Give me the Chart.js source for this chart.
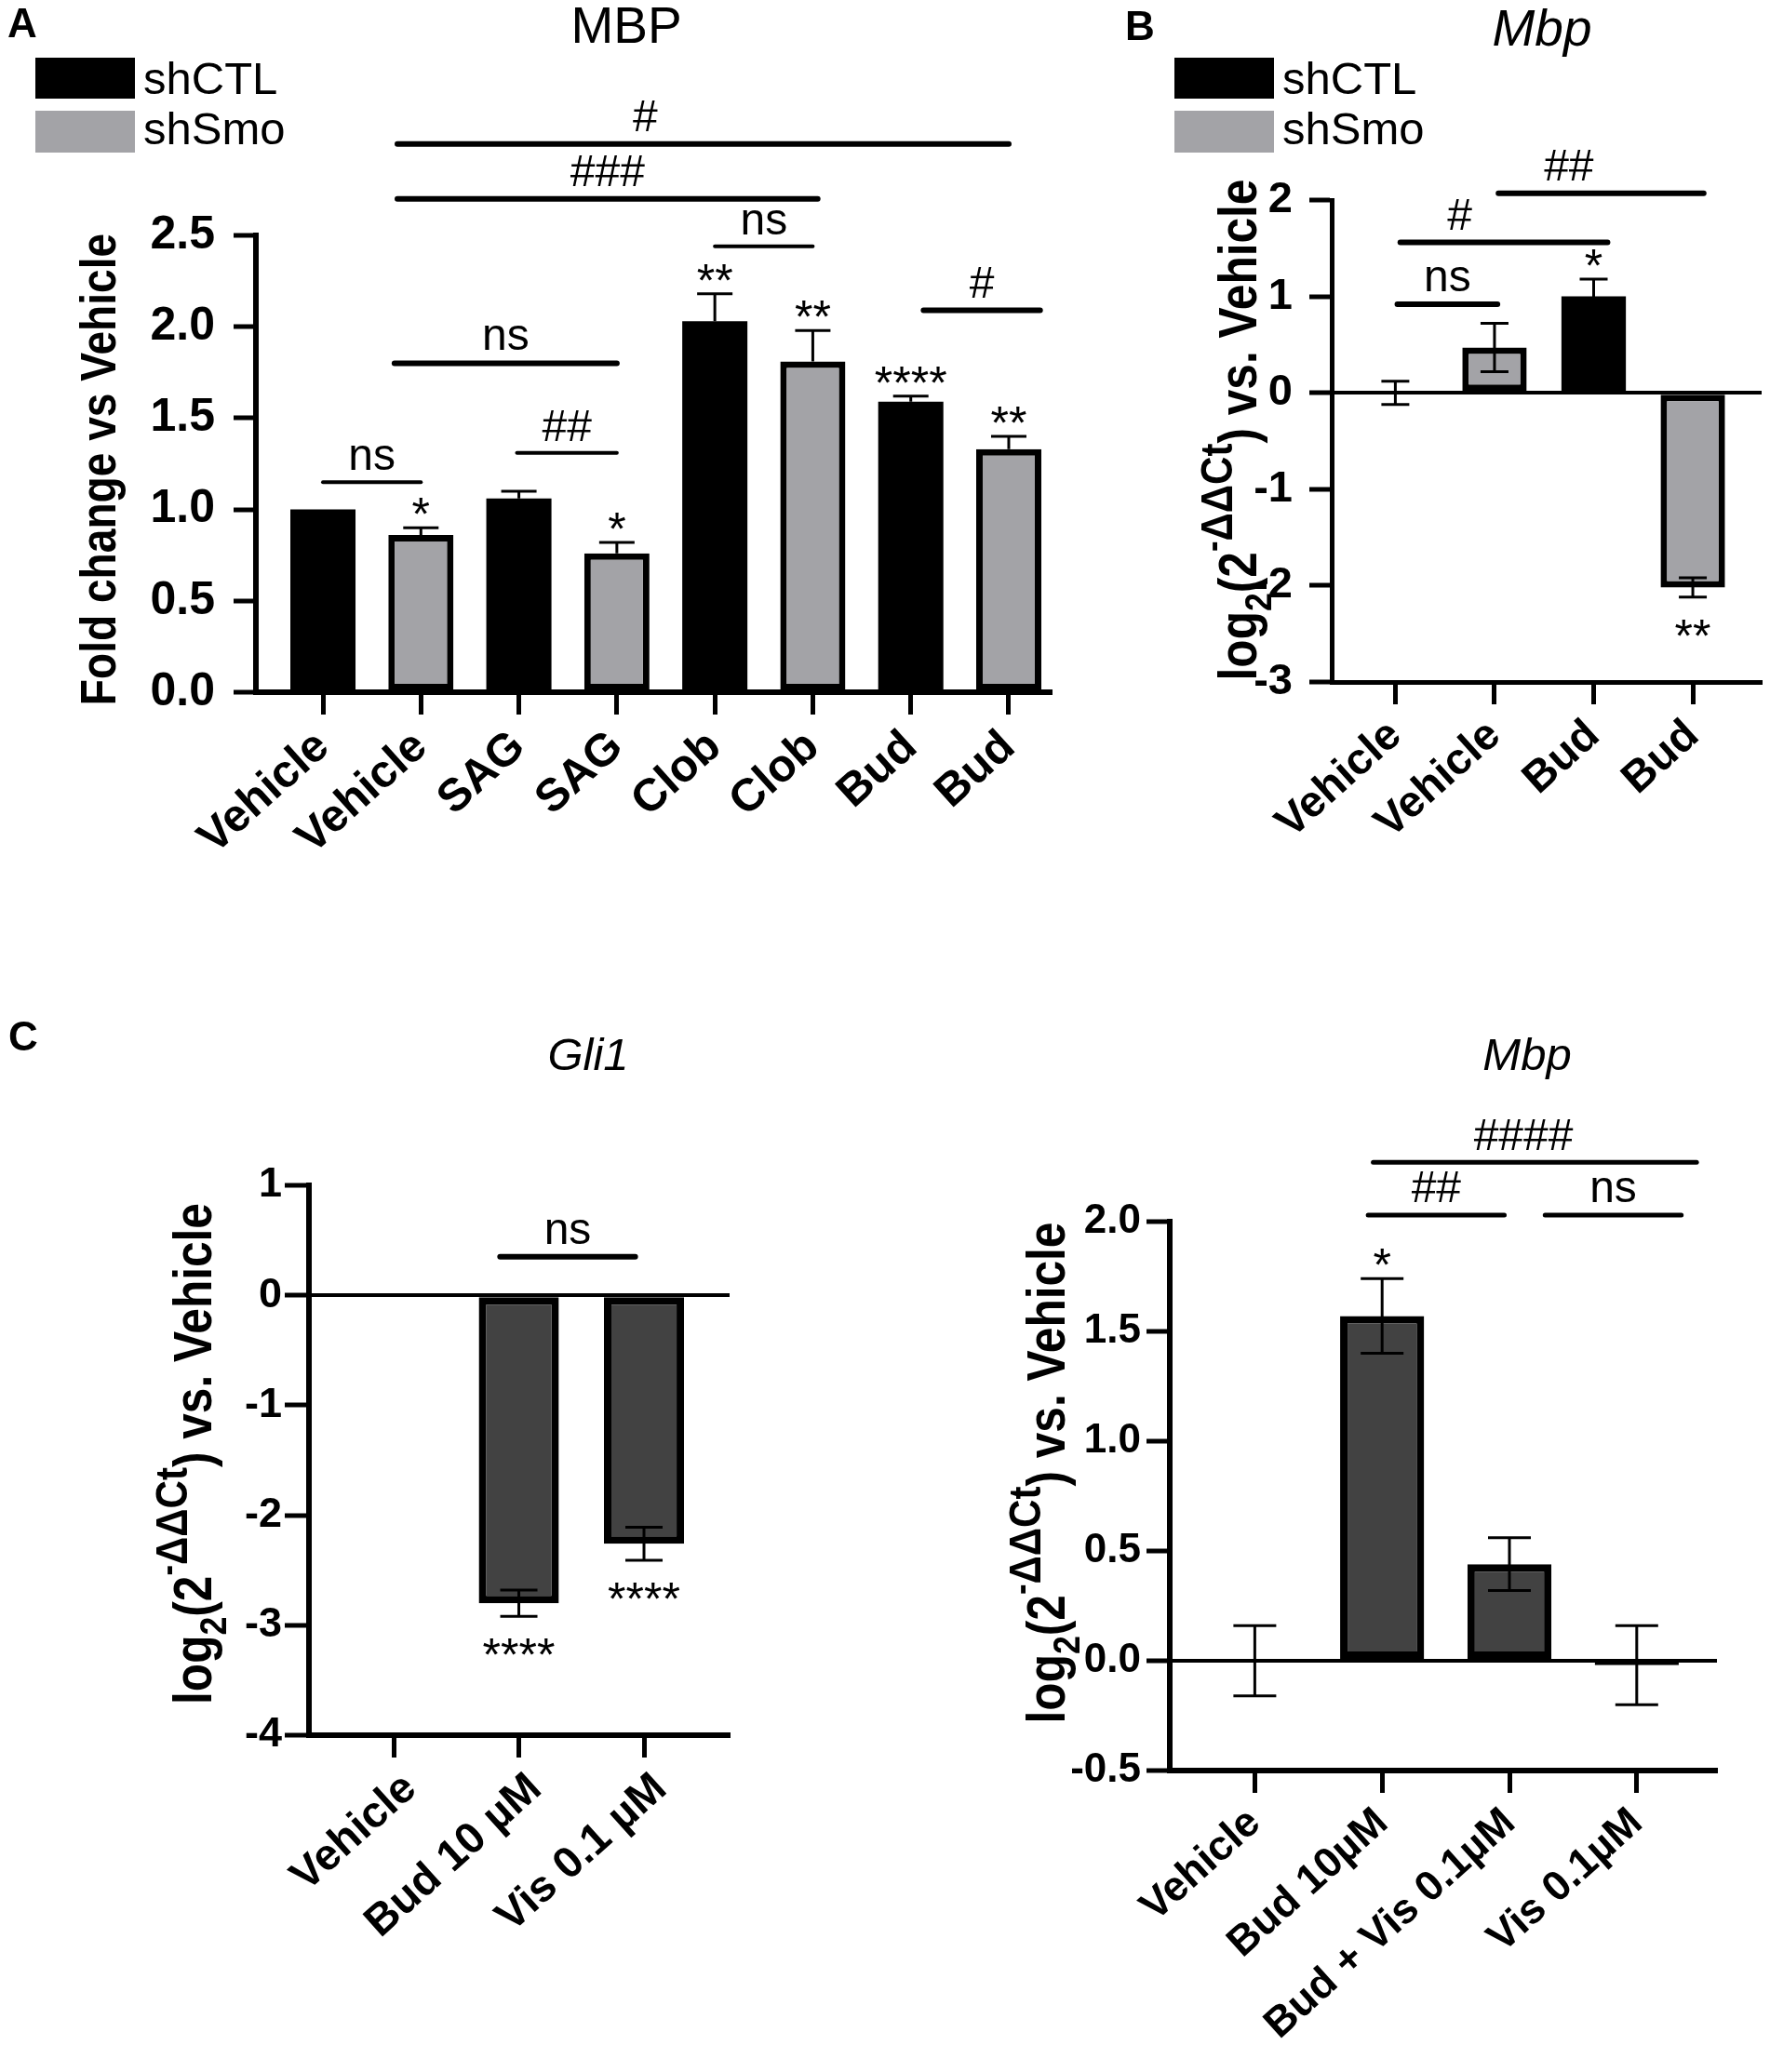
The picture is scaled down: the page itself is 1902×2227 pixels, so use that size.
<!DOCTYPE html>
<html>
<head>
<meta charset="utf-8">
<script src="https://cdn.jsdelivr.net/npm/chart.js@4.4.1/dist/chart.umd.min.js"></script>
<style>
  body { margin: 0; background: #fff; }
  #page { position: relative; width: 1902px; height: 2227px; font-family: "Liberation Sans", Arial, sans-serif; color: #000; }
  canvas { position: absolute; }
  .lbl { position: absolute; line-height: 1; white-space: nowrap; }
  .mid { transform: translateX(-50%); }
  .key { position: absolute; }
</style>
</head>
<body>
<div id="page">
  <canvas id="chartA" width="1180" height="1000" style="left:0;top:0"></canvas>
  <canvas id="chartB" width="702" height="1000" style="left:1200px;top:0"></canvas>
  <canvas id="chartGli" width="950" height="1147" style="left:0;top:1080px"></canvas>
  <canvas id="chartMbp" width="852" height="1147" style="left:1050px;top:1080px"></canvas>

  <div class="lbl" style="left:8px;top:3px;font-size:44px;font-weight:bold">A</div>
  <div class="lbl mid" style="left:673px;top:0px;font-size:55px">MBP</div>
  <div class="lbl" style="left:1209px;top:6px;font-size:44px;font-weight:bold">B</div>
  <div class="lbl mid" style="left:1657px;top:3px;font-size:55px;font-style:italic">Mbp</div>
  <div class="lbl" style="left:9px;top:1092px;font-size:44px;font-weight:bold">C</div>
  <div class="lbl mid" style="left:632px;top:1109px;font-size:49px;font-style:italic">Gli1</div>
  <div class="lbl mid" style="left:1641px;top:1109px;font-size:49px;font-style:italic">Mbp</div>
  <div id="legendA"></div>
  <div id="legendB"></div>
</div>

<script>
// ---- data ----
const seriesNames = ["shCTL", "shSmo"];

// A: MBP protein, fold change vs vehicle
const labelsA = ["Vehicle", "Vehicle", "SAG", "SAG", "Clob", "Clob", "Bud", "Bud"];
const ctlA = [1.0, 1.06, 2.03, 1.59];
const ctlErrA = [0, 0.04, 0.15, 0.03];
const ctlStarsA = ["", "", "**", "****"];
const smoA = [0.86, 0.76, 1.81, 1.33];
const smoErrA = [0.04, 0.06, 0.17, 0.07];
const smoStarsA = ["*", "*", "**", "**"];
const ticksA = [0, 0.5, 1, 1.5, 2, 2.5];
// [from, to, y, text, text position]
const sigA = [
  [0, 1, 1.15, "ns"],
  [0.73, 3, 1.8, "ns"],
  [1.98, 3, 1.31, "##"],
  [4, 5, 2.44, "ns"],
  [0.76, 5.05, 2.7, "###"],
  [0.76, 7, 3.0, "#", 3.29],
  [6.13, 7.32, 2.09, "#"]
];

// B: Mbp mRNA
const labelsB = ["Vehicle", "Vehicle", "Bud", "Bud"];
const ctlB = [0, 1.0];
const ctlErrB = [0.12, 0.18];
const ctlStarsB = ["", "*"];
const smoB = [0.47, -2.02];
const smoErrB = [0.25, 0.1];
const smoStarsB = ["", "**"];
const ticksB = [-3, -2, -1, 0, 1, 2];
const sigB = [
  [0.02, 1.03, 0.92, "ns"],
  [0.05, 2.14, 1.56, "#", 0.65],
  [1.04, 3.11, 2.07, "##", 1.75]
];

// C left: Gli1
const labelsGli = ["Vehicle", "Bud 10 µM", "Vis 0.1 µM"];
const gli = [0, -2.8, -2.26];
const gliErr = [0, 0.12, 0.15];
const gliStars = ["", "****", "****"];
const ticksGli = [-4, -3, -2, -1, 0, 1];
const sigGli = [[0.85, 1.93, 0.35, "ns"]];

// C right: Mbp
const labelsMbp = ["Vehicle", "Bud 10µM", "Bud + Vis 0.1µM", "Vis 0.1µM"];
const mbp = [0, 1.57, 0.44, -0.02];
const mbpErr = [0.16, 0.17, 0.12, 0.18];
const mbpStars = ["", "*", "", ""];
const ticksMbp = [-0.5, 0, 0.5, 1, 1.5, 2];
const sigMbp = [
  [0.93, 3.47, 2.27, "####", 2.11],
  [0.89, 1.96, 2.03, "##"],
  [2.28, 3.35, 2.03, "ns"]
];

// ---- styling ----
const FAM = '"Liberation Sans", Arial, sans-serif';
const BLACK = "#000";
const GREY = "#a3a3a7";
const DARK = "#424242";
const logTitle = [
  { t: "log" }, { t: "2", s: 0.72, dy: 0.28 }, { t: "(2" },
  { t: "-", s: 0.7, dy: -0.6 }, { t: "ΔΔCt", s: 0.85, dy: -0.45 }, { t: ") vs. Vehicle" }
];

function legend(id, left) {
  const box = document.getElementById(id);
  [BLACK, GREY].forEach((c, i) => {
    const r = document.createElement("div");
    r.className = "key";
    r.style.cssText = `left:${left}px;top:${62 + i * 57}px;width:107px;height:${44 + i}px;background:${c}`;
    box.appendChild(r);
    const t = document.createElement("div");
    t.className = "lbl";
    t.style.cssText = `left:${left + 116}px;top:${60 + i * 54}px;font-size:49px`;
    t.textContent = seriesNames[i];
    box.appendChild(t);
  });
}
legend("legendA", 38);
legend("legendB", 1262);

function bars(xs, vals, errs, stars, label, color, border) {
  return {
    label: label,
    data: xs.map((x, i) => ({ x: x, y: vals[i] })),
    err: errs,
    stars: stars,
    backgroundColor: color,
    borderColor: BLACK,
    borderWidth: border,
    borderSkipped: false,
    grouped: false,
    categoryPercentage: 1
  };
}

function drawRich(ctx, parts, size) {
  let w = 0;
  parts.forEach(p => {
    ctx.font = `bold ${size * (p.s || 1)}px ${FAM}`;
    p.w = ctx.measureText(p.t).width;
    w += p.w;
  });
  let cx = -w / 2;
  parts.forEach(p => {
    ctx.font = `bold ${size * (p.s || 1)}px ${FAM}`;
    ctx.fillText(p.t, cx, (p.dy || 0) * size);
    cx += p.w;
  });
}

function overlay(o) {
  return {
    id: "overlay",
    afterDatasetsDraw(chart) {
      const { ctx, chartArea, scales: { x, y } } = chart;
      ctx.save();
      ctx.strokeStyle = BLACK;
      ctx.fillStyle = BLACK;
      ctx.lineCap = "butt";

      // error bars and stars
      chart.data.datasets.forEach((ds, di) => {
        chart.getDatasetMeta(di).data.forEach((bar, i) => {
          const v = ds.data[i].y, e = ds.err[i];
          const top = y.getPixelForValue(v + e);
          const bot = y.getPixelForValue(v - e);
          const mid = y.getPixelForValue(v);
          const h = o.cap / 2;
          if (e > 0) {
            ctx.lineWidth = 3;
            ctx.beginPath();
            ctx.moveTo(bar.x, top);
            ctx.lineTo(bar.x, o.errUp ? mid : bot);
            ctx.moveTo(bar.x - h, top);
            ctx.lineTo(bar.x + h, top);
            if (!o.errUp) {
              ctx.moveTo(bar.x - h, bot);
              ctx.lineTo(bar.x + h, bot);
            }
            ctx.stroke();
          }
          const s = ds.stars[i];
          if (s) {
            ctx.font = `50px ${FAM}`;
            ctx.textAlign = "center";
            ctx.textBaseline = "alphabetic";
            const cy = v >= 0 ? top - 26 : bot + 30;
            ctx.fillText(s, bar.x, cy + 0.58 * 50);
          }
        });
      });

      // significance brackets
      o.sig.forEach((s, k) => {
        const x1 = x.getPixelForValue(s[0]), x2 = x.getPixelForValue(s[1]);
        const py = y.getPixelForValue(s[2]);
        const lw = o.sigLw[k] || o.sigLw[0];
        ctx.lineWidth = lw;
        ctx.lineCap = "round";
        ctx.beginPath();
        ctx.moveTo(x1, py);
        ctx.lineTo(x2, py);
        ctx.stroke();
        ctx.font = `48px ${FAM}`;
        ctx.textAlign = "center";
        ctx.textBaseline = "alphabetic";
        const tx = s[4] !== undefined ? x.getPixelForValue(s[4]) : (x1 + x2) / 2;
        ctx.fillText(s[3], tx, py - 11 - lw / 2);
      });

      // y axis title, a little condensed along its length like the original
      ctx.save();
      ctx.translate(chartArea.left + o.titleX, (chartArea.top + chartArea.bottom) / 2 + o.titleDY);
      ctx.rotate(-Math.PI / 2);
      ctx.scale(0.87, 1);
      ctx.textAlign = "left";
      ctx.textBaseline = "alphabetic";
      drawRich(ctx, o.title.map(p => Object.assign({}, p)), o.titleSize);
      ctx.restore();

      ctx.restore();
    }
  };
}

function makeChart(id, o) {
  const el = document.getElementById(id);
  const W = el.width, H = el.height;
  const yFont = { family: FAM, size: o.yFs, weight: "bold" };
  const xFont = { family: FAM, size: o.xFs, weight: "bold" };
  return new Chart(el, {
    type: "bar",
    data: { datasets: o.datasets },
    options: {
      responsive: false,
      animation: false,
      events: [],
      layout: { padding: { left: 0, top: o.area.top, right: W - o.area.right, bottom: 0 } },
      datasets: { bar: { barPercentage: o.barPct } },
      plugins: { legend: { display: false }, tooltip: { enabled: false } },
      scales: {
        x: {
          type: "linear",
          offset: false,
          min: o.xMin,
          max: o.xMax,
          afterBuildTicks: s => { s.ticks = o.labels.map((_, i) => ({ value: i })); },
          afterFit: s => { s.height = H - o.area.bottom; s.paddingLeft = 0; s.paddingRight = 0; },
          ticks: {
            callback: v => o.labels[v],
            autoSkip: false,
            minRotation: 42,
            maxRotation: 42,
            padding: 6,
            labelOffset: o.xShift || 0,
            color: BLACK,
            font: xFont
          },
          grid: { offset: false, drawOnChartArea: false, tickLength: 24, tickWidth: 5, tickColor: BLACK, color: BLACK },
          border: { display: true, color: BLACK, width: o.bw }
        },
        y: {
          min: o.yTicks[0],
          max: o.yTicks[o.yTicks.length - 1],
          afterBuildTicks: s => { s.ticks = o.yTicks.map(v => ({ value: v })); },
          afterFit: s => { s.width = o.area.left; s.paddingTop = 0; s.paddingBottom = 0; },
          ticks: { callback: o.fmt, padding: o.yPad, color: BLACK, font: yFont },
          grid: {
            drawOnChartArea: o.zero,
            color: c => (c.tick && c.tick.value === 0 ? BLACK : "rgba(0,0,0,0)"),
            lineWidth: 4,
            tickLength: o.yLen,
            tickWidth: 5,
            tickColor: BLACK
          },
          border: { display: true, color: BLACK, width: o.bw }
        }
      }
    },
    plugins: [overlay(o)]
  });
}

const evens = n => Array.from({ length: n }, (_, i) => i * 2);
const odds = n => Array.from({ length: n }, (_, i) => i * 2 + 1);
const idx = n => Array.from({ length: n }, (_, i) => i);

makeChart("chartA", {
  labels: labelsA,
  datasets: [
    bars(evens(4), ctlA, ctlErrA, ctlStarsA, seriesNames[0], BLACK, 0),
    bars(odds(4), smoA, smoErrA, smoStarsA, seriesNames[1], GREY, 7)
  ],
  area: { left: 275, top: 253, right: 1130, bottom: 744 },
  xMin: -0.684, xMax: 7.437,
  yTicks: ticksA, fmt: v => v.toFixed(1),
  zero: false, errUp: true, cap: 38, barPct: 0.665, bw: 6,
  yPad: 20, yLen: 24, yFs: 50, xFs: 49,
  sig: sigA, sigLw: [4, 6, 4, 4, 6, 6, 6],
  title: [{ t: "Fold change vs Vehicle" }], titleX: -151, titleDY: 6, titleSize: 53
});

makeChart("chartB", {
  labels: labelsB,
  datasets: [
    bars(evens(2), ctlB, ctlErrB, ctlStarsB, seriesNames[0], BLACK, 0),
    bars(odds(2), smoB, smoErrB, smoStarsB, seriesNames[1], GREY, 7)
  ],
  area: { left: 231, top: 215, right: 693, bottom: 733 },
  xMin: -0.642, xMax: 3.694,
  yTicks: ticksB, fmt: v => String(v),
  zero: true, errUp: false, cap: 30, barPct: 0.65, bw: 5,
  yPad: 18, yLen: 24, yFs: 47, xFs: 47,
  sig: sigB, sigLw: [6],
  title: logTitle, titleX: -81, titleDY: -12, titleSize: 57
});

makeChart("chartGli", {
  labels: labelsGli,
  datasets: [bars(idx(3), gli, gliErr, gliStars, "Gli1", DARK, 8)],
  area: { left: 332, top: 194, right: 784, bottom: 785 },
  xMin: -0.677, xMax: 2.684,
  yTicks: ticksGli, fmt: v => String(v),
  zero: true, errUp: false, cap: 40, barPct: 0.64, bw: 6,
  yPad: 3, yLen: 26, yFs: 45, xFs: 47, xShift: 18,
  sig: sigGli, sigLw: [6],
  title: logTitle, titleX: -105, titleDY: -7, titleSize: 57
});

makeChart("chartMbp", {
  labels: labelsMbp,
  datasets: [bars(idx(4), mbp, mbpErr, mbpStars, "Mbp", DARK, 8)],
  area: { left: 207, top: 233, right: 795, bottom: 823 },
  xMin: -0.668, xMax: 3.63,
  yTicks: ticksMbp, fmt: v => v.toFixed(1),
  zero: true, errUp: false, cap: 46, barPct: 0.66, bw: 6,
  yPad: 6, yLen: 25, yFs: 44, xFs: 45,
  sig: sigMbp, sigLw: [5],
  title: logTitle, titleX: -113, titleDY: -25, titleSize: 57
});
</script>
</body>
</html>
